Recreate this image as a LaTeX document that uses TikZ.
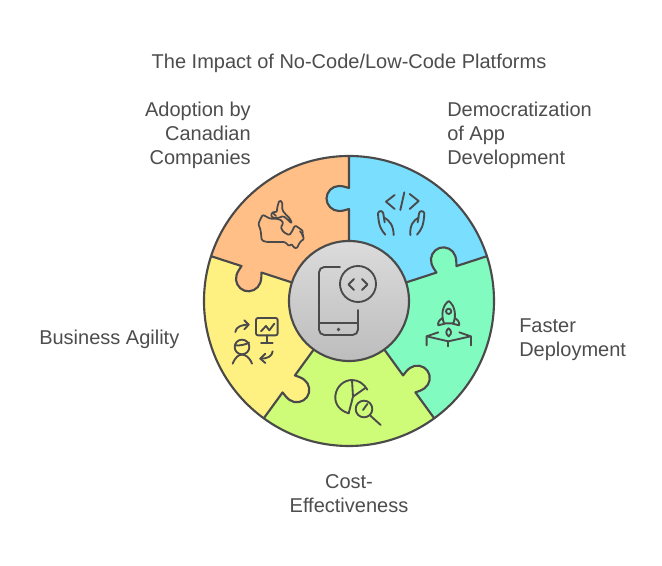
\documentclass[tikz,border=0pt]{standalone}
\usepackage{fontspec}
\setmainfont{Liberation Sans}
\definecolor{ink}{HTML}{4A4A4A}
\definecolor{txt}{HTML}{4D4D4D}
\definecolor{orangeS}{HTML}{FFBF86}
\definecolor{blueS}{HTML}{7ADEFF}
\definecolor{greenS}{HTML}{82FBC0}
\definecolor{limeS}{HTML}{CEFB78}
\definecolor{yellowS}{HTML}{FFF082}
\tikzset{
  lab/.style={text=txt,font=\fontsize{15pt}{18pt}\selectfont,inner sep=0pt},
  rim/.style={draw=ink,line width=1.6pt,line join=round},
  icon/.style={draw=ink,line width=1.4pt,line cap=round,line join=round,fill=none},
  thinicon/.style={icon,line width=1.3pt},
  crop/.style={x=0.25pt,y=-0.25pt},
}
\newcommand{\defB}[2]{%
  \begin{scope}[shift={(349,301)},x=0.75pt,y=0.75pt,rotate=#2]
    \coordinate (b#1i) at (60,0);
    \coordinate (b#1p) at (92,0);
    \coordinate (b#1q) at (90,10);
    \coordinate (b#1r) at (102.5,22.5);
    \coordinate (b#1s) at (115,10);
    \coordinate (b#1t) at (113,0);
    \coordinate (b#1o) at (145,0);
    \coordinate (b#1f) at (220,0);
    \coordinate (b#1pa) at (91.2,3);
    \coordinate (b#1pb) at (90,6);
    \coordinate (b#1qa) at (90,17);
    \coordinate (b#1qb) at (96,22.5);
    \coordinate (b#1ra) at (109,22.5);
    \coordinate (b#1rb) at (115,17);
    \coordinate (b#1sa) at (115,6);
    \coordinate (b#1sb) at (113.8,3);
  \end{scope}}
\newcommand{\Bout}[1]{(b#1i) -- (b#1p) .. controls (b#1pa) and (b#1pb) .. (b#1q) .. controls (b#1qa) and (b#1qb) .. (b#1r) .. controls (b#1ra) and (b#1rb) .. (b#1s) .. controls (b#1sa) and (b#1sb) .. (b#1t) -- (b#1o)}
\newcommand{\Bin}[1]{(b#1o) -- (b#1t) .. controls (b#1sb) and (b#1sa) .. (b#1s) .. controls (b#1rb) and (b#1ra) .. (b#1r) .. controls (b#1qb) and (b#1qa) .. (b#1q) .. controls (b#1pb) and (b#1pa) .. (b#1p) -- (b#1i)}
\newcommand{\Sector}[3]{\fill[#3] \Bout{#1} -- (b#1f) -- (b#2f) -- \Bin{#2} -- cycle;}
\begin{document}
\begin{tikzpicture}[x=0.75pt,y=-0.75pt]
\useasboundingbox (0,0) rectangle (662,566);
\fill[white] (0,0) rectangle (662,566);
\coordinate (c) at (349,301);
\defB{1}{90}\defB{2}{18}\defB{3}{-54}\defB{4}{-126}\defB{5}{162}
\begin{scope}
  \clip (c) circle[radius=145];
  \fill[orangeS] (c) circle[radius=146];
  \Sector{1}{2}{blueS}
  \Sector{2}{3}{greenS}
  \Sector{3}{4}{limeS}
  \Sector{4}{5}{yellowS}
\end{scope}
\draw[rim] \Bout{1};
\draw[rim] \Bout{2};
\draw[rim] \Bout{3};
\draw[rim] \Bout{4};
\draw[rim] \Bout{5};
\draw[rim] (c) circle[radius=145];
\path[rim,top color=gray!28!white,bottom color=gray!52!white,draw=ink] (c) circle[radius=60];
% centre icon
\draw[icon,rounded corners=4pt] (340,267) -- (319,267) -- (319,335) -- (358,335) -- (358,310);
\draw[icon] (319,323) -- (358,323);
\fill[ink] (338.5,329.5) circle[radius=1.8];
\draw[icon] (358,284) circle[radius=18];
\draw[icon] (354,279) -- (348.5,284.5) -- (354,290);
\draw[icon] (362,279) -- (367.5,284.5) -- (362,290);
% Canada
\begin{scope}[shift={(250,192)},crop]
\draw[thinicon,rounded corners=1pt] (38,68) -- (25,95) -- (32,115) -- (35,145) -- (50,150) -- (105,150) -- (118,163) -- (125,155) -- (130,165) -- (140,170) -- (145,160) -- (150,150) -- (163,140) -- (155,128) -- (160,118) -- (150,110) -- (135,100) -- (125,120) -- (118,130) -- (100,120) -- (92,105) -- (100,95) -- (95,85) -- (80,80) -- (60,80) -- cycle;
\draw[thinicon,rounded corners=1pt] (62,68) -- (72,58) -- (80,62) -- (82,45) -- (88,25) -- (97,30) -- (97,55) -- (108,68) -- (120,80) -- (126,95) -- (112,82) -- (100,72) -- (85,78) -- (68,78) -- cycle;
\draw[thinicon] (68,62) -- (78,72) (150,118) -- (160,130);
\end{scope}
% hands and code
\begin{scope}[shift={(372,185)},crop]
\draw[icon] (68,30) -- (42,50) -- (68,72);
\draw[icon] (113,27) -- (140,48) -- (113,72);
\draw[icon] (97,22) -- (85,75);
\draw[icon] (40,149) .. controls (28,135) and (20,125) .. (18,85) .. controls (20,76) and (33,76) .. (34,86) -- (38,112);
\draw[icon] (37,98) .. controls (50,105) and (65,120) .. (65,150);
\draw[icon] (135,149) .. controls (147,135) and (155,125) .. (157,85) .. controls (155,76) and (142,76) .. (141,86) -- (137,112);
\draw[icon] (140,98) .. controls (125,105) and (113,120) .. (115,150);
\end{scope}
% rocket
\begin{scope}[shift={(420,298)},crop]
\draw[icon] (72,76) .. controls (62,50) and (68,22) .. (86,9) .. controls (104,22) and (110,50) .. (100,76) -- cycle;
\draw[icon] (86,40) circle[radius=8];
\draw[icon] (68,60) .. controls (58,65) and (52,75) .. (55,82) -- (74,77);
\draw[icon] (104,60) .. controls (114,65) and (120,75) .. (117,82) -- (98,77);
\draw[icon] (86,91) .. controls (78,97) and (75,107) .. (86,115) .. controls (97,107) and (94,97) .. (86,91) -- cycle;
\draw[icon] (20,142) -- (20,115) -- (55,103);
\draw[icon] (20,115) -- (85,130) -- (152,115) -- (118,103);
\draw[icon] (152,115) -- (152,142);
\draw[icon] (85,130) -- (85,145);
\end{scope}
% pie and magnifier
\begin{scope}[shift={(328,374)},crop]
\draw[icon] (62,118) .. controls (35,110) and (20,90) .. (22,66) .. controls (25,35) and (50,18) .. (72,18) .. controls (92,18) and (108,30) .. (118,47);
\draw[icon] (72,18) -- (75,68) -- (62,118);
\draw[icon] (75,68) -- (112,42);
\draw[icon] (108,105) circle[radius=25];
\draw[icon] (127,125) -- (158,153);
\draw[icon] (105,108) -- (118,90);
\end{scope}
% person and monitor
\begin{scope}[shift={(226,312)},crop]
\draw[icon,rounded corners=1.5pt] (90,18) rectangle (155,70);
\draw[icon] (122,70) -- (122,92);
\draw[icon] (105,92) -- (140,92);
\draw[icon] (105,58) -- (120,42) -- (130,55) -- (145,35);
\draw[icon] (28,60) .. controls (30,45) and (45,38) .. (68,38);
\draw[icon] (55,25) -- (68,38) -- (55,52);
\draw[icon] (140,118) .. controls (138,133) and (125,140) .. (103,140);
\draw[icon] (118,125) -- (103,140) -- (118,153);
\draw[icon] (48,105) circle[radius=22];
\draw[icon] (27,100) .. controls (40,102) and (58,98) .. (69,92);
\draw[icon] (20,155) .. controls (28,135) and (38,128) .. (48,128) .. controls (58,128) and (70,135) .. (78,155);
\end{scope}
% labels
\node[lab,anchor=base] (title) at (349,68.8) {The Impact of No-Code/Low-Code Platforms};
\node[lab,anchor=base east] (a1) at (251,116.8) {Adoption by};
\node[lab,anchor=base east] (a2) at (251,140.8) {Canadian};
\node[lab,anchor=base east] (a3) at (251,164.8) {Companies};
\node[lab,anchor=base west] (d1) at (447,116.8) {Democratization};
\node[lab,anchor=base west] (d2) at (447,140.8) {of App};
\node[lab,anchor=base west] (d3) at (447,164.8) {Development};
\node[lab,anchor=base west] (f1) at (519,332.8) {Faster};
\node[lab,anchor=base west] (f2) at (519,356.8) {Deployment};
\node[lab,anchor=base] (e1) at (349,488.8) {Cost-};
\node[lab,anchor=base] (e2) at (349,512.8) {Effectiveness};
\node[lab,anchor=base west] (g1) at (39,344.8) {Business Agility};
\end{tikzpicture}
\end{document}
